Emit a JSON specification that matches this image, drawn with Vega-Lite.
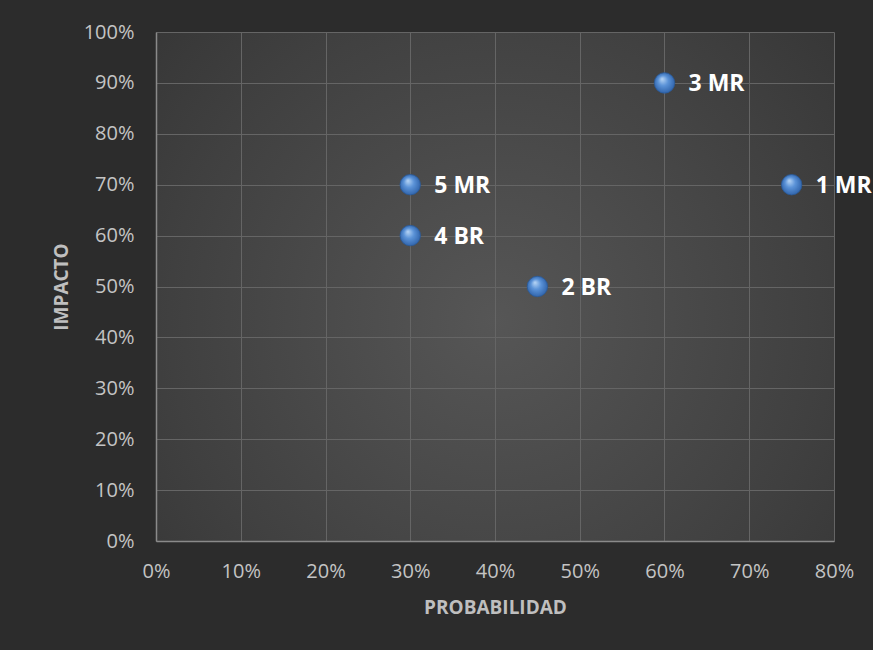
{
  "$schema": "https://vega.github.io/schema/vega-lite/v6.json",
  "autosize": {"type": "none"},
  "width": 678,
  "height": 509,
  "padding": {"left": 156, "top": 32, "right": 39, "bottom": 109},
  "background": "#2c2c2c",
  "view": {
    "stroke": null,
    "fill": {
      "gradient": "radial",
      "x1": 0.5, "y1": 0.55, "r1": 0,
      "x2": 0.5, "y2": 0.55, "r2": 0.8,
      "stops": [
        {"offset": 0, "color": "#565656"},
        {"offset": 0.6, "color": "#404040"},
        {"offset": 1, "color": "#303030"}
      ]
    }
  },
  "config": {"font": "Open Sans"},
  "data": {
    "values": [
      {"prob": 0.75, "impacto": 0.7, "label": "1 MR"},
      {"prob": 0.45, "impacto": 0.5, "label": "2 BR"},
      {"prob": 0.6, "impacto": 0.9, "label": "3 MR"},
      {"prob": 0.3, "impacto": 0.6, "label": "4 BR"},
      {"prob": 0.3, "impacto": 0.7, "label": "5 MR"}
    ]
  },
  "encoding": {
    "x": {
      "field": "prob", "type": "quantitative",
      "scale": {"domain": [0, 0.8], "nice": false},
      "axis": {
        "title": "PROBABILIDAD", "format": "%",
        "values": [0, 0.1, 0.2, 0.3, 0.4, 0.5, 0.6, 0.7, 0.8],
        "labelOverlap": false, "labelFlush": false,
        "ticks": false, "labelPadding": 20, "labelFontSize": 20,
        "labelColor": "#c4c4c4", "labelFont": "Open Sans",
        "titleFontSize": 19, "titleFontWeight": "bold", "titleColor": "#bfbfbf",
        "titlePadding": 17, "titleFont": "Open Sans",
        "domainColor": "#8a8a8a", "domainWidth": 1.5,
        "gridColor": "#656565", "gridWidth": 1
      }
    },
    "y": {
      "field": "impacto", "type": "quantitative",
      "scale": {"domain": [0, 1], "nice": false},
      "axis": {
        "title": "IMPACTO", "format": "%",
        "values": [0, 0.1, 0.2, 0.3, 0.4, 0.5, 0.6, 0.7, 0.8, 0.9, 1],
        "labelOverlap": false, "labelFlush": false,
        "ticks": false, "labelPadding": 22, "labelFontSize": 20,
        "labelColor": "#c4c4c4", "labelFont": "Open Sans",
        "titleFontSize": 19, "titleFontWeight": "bold", "titleColor": "#bfbfbf",
        "titlePadding": 12, "titleFont": "Open Sans",
        "domainColor": "#8a8a8a", "domainWidth": 1.5,
        "gridColor": "#656565", "gridWidth": 1
      }
    }
  },
  "layer": [
    {
      "mark": {
        "type": "point", "filled": true, "size": 420, "opacity": 1,
        "stroke": "#2a5a99", "strokeWidth": 0.8,
        "fill": {
          "gradient": "radial",
          "x1": 0.38, "y1": 0.3, "r1": 0,
          "x2": 0.5, "y2": 0.5, "r2": 0.55,
          "stops": [
            {"offset": 0, "color": "#b9d6f5"},
            {"offset": 0.45, "color": "#5b93d8"},
            {"offset": 1, "color": "#2c5fa6"}
          ]
        }
      }
    },
    {
      "mark": {
        "type": "text", "align": "left", "baseline": "middle", "dx": 24, "dy": 1,
        "fontSize": 23, "fontWeight": "bold", "color": "#ffffff", "font": "Open Sans"
      },
      "encoding": {"text": {"field": "label"}}
    }
  ]
}
